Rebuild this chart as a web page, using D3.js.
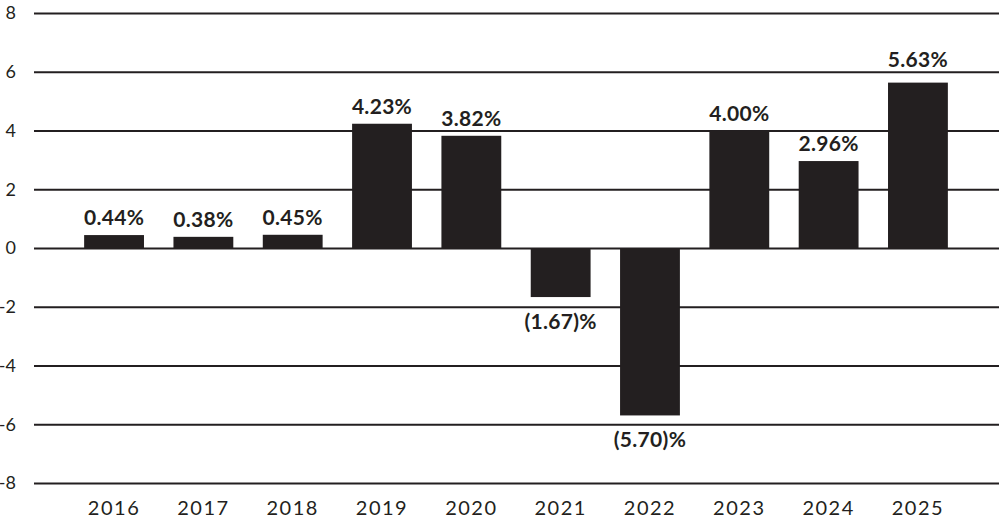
<!DOCTYPE html>
<html><head><meta charset="utf-8">
<script src="https://cdn.jsdelivr.net/npm/d3@7"></script>
<style>html,body{margin:0;padding:0;background:#fff;}svg{display:block;}</style>
</head><body>
<script>
const years = ["2016","2017","2018","2019","2020","2021","2022","2023","2024","2025"];
const values = [0.44,0.38,0.45,4.23,3.82,-1.67,-5.70,4.00,2.96,5.63];
const labels = ["0.44%","0.38%","0.45%","4.23%","3.82%","(1.67)%","(5.70)%","4.00%","2.96%","5.63%"];
const yTicks = [-8,-6,-4,-2,0,2,4,6,8];

const W = 999, H = 522;
const svg = d3.select("body").append("svg").attr("width", W).attr("height", H);
const font = "Lato, 'Noto Sans', sans-serif";
const ink = "#231f20";

const y = d3.scaleLinear().domain([-8, 8]).range([483, 13]);
const x = d3.scaleBand().domain(years).range([69.4, 962.6]).paddingInner(0.33).paddingOuter(0.165);

const yAxis = d3.axisLeft(y).tickValues(yTicks).tickSize(-(W - 34)).tickFormat(d => d);
const gy = svg.append("g").attr("transform", "translate(34,0)").call(yAxis);
gy.select(".domain").remove();
gy.selectAll(".tick line").attr("stroke", ink).attr("stroke-width", 2);
gy.selectAll(".tick text").attr("x", -18).attr("fill", ink)
  .style("font-family", font).style("font-size", "18px");

const xAxis = d3.axisBottom(x).tickSize(0).tickPadding(0);
const gx = svg.append("g").attr("transform", "translate(0,515)").call(xAxis);
gx.select(".domain").remove();
gx.selectAll(".tick text").attr("dy", 0).attr("y", 0).attr("fill", ink)
  .style("font-family", font).style("font-size", "20px").style("letter-spacing", "1.5px");

svg.append("g").selectAll("rect").data(years).join("rect")
  .attr("x", d => x(d))
  .attr("width", x.bandwidth())
  .attr("y", (d, i) => y(Math.max(0, values[i])))
  .attr("height", (d, i) => Math.abs(y(values[i]) - y(0)))
  .attr("fill", ink);

function labelY(v) {
  if (v < 0) return y(v) + 32;
  let b = y(v) - 10;
  for (const t of yTicks) {
    const g = y(t);
    if (b > g - 3 && b < g + 8) b = g - 5;
  }
  return b;
}

svg.append("g").selectAll("text").data(years).join("text")
  .attr("x", d => x(d) + x.bandwidth() / 2)
  .attr("y", (d, i) => labelY(values[i]))
  .attr("text-anchor", "middle")
  .attr("fill", ink)
  .style("font-family", font).style("font-weight", "bold").style("font-size", "21px")
  .style("letter-spacing", "0.3px")
  .text((d, i) => labels[i]);
</script>
</body></html>
